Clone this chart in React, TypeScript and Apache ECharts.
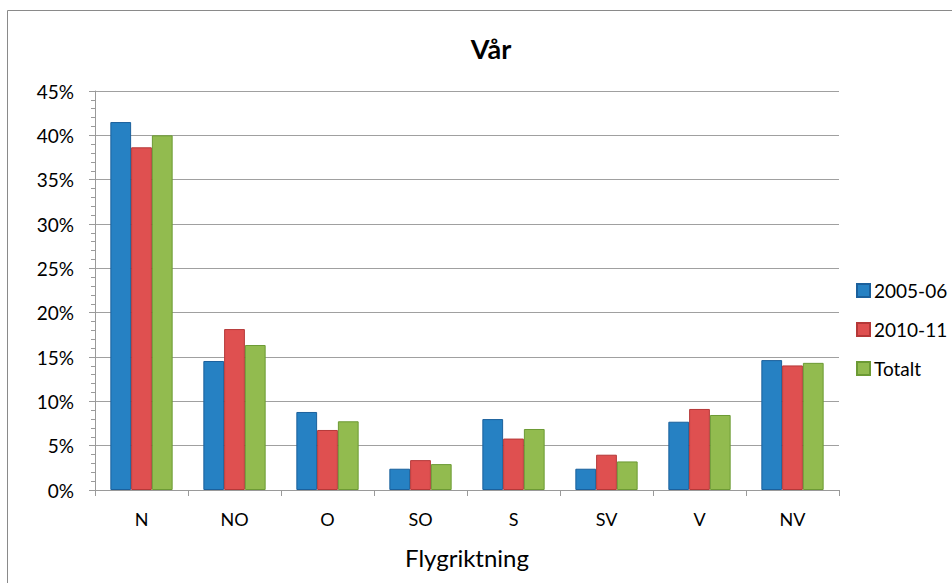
import React, { useEffect, useRef } from "react";
import * as echarts from "echarts";

const categories = ["N", "NO", "O", "SO", "S", "SV", "V", "NV"];
const series2005 = [41.5, 14.55, 8.8, 2.4, 8.0, 2.4, 7.7, 14.65];
const series2010 = [38.65, 18.15, 6.77, 3.37, 5.8, 3.98, 9.14, 14.05];
const seriesTotal = [40.0, 16.35, 7.75, 2.92, 6.88, 3.22, 8.46, 14.34];
const seriesNames = ["2005-06", "2010-11", "Totalt"];
const titleText = "Vår";
const xAxisName = "Flygriktning";

const FONT = "Lato, 'Noto Sans', sans-serif";

export default function App() {
  const ref = useRef<HTMLDivElement>(null);
  useEffect(() => {
    if (!ref.current) return;
    const chart = echarts.init(ref.current, undefined, { renderer: "svg" });
    const mk = (name: string, data: number[], fill: string, border: string) => ({
      name,
      type: "bar",
      data,
      barGap: "0%",
      barCategoryGap: "33%",
      itemStyle: { color: fill, borderColor: border, borderWidth: 1 },
    });
    chart.setOption({
      animation: false,
      backgroundColor: "#ffffff",
      textStyle: { fontFamily: FONT },
      title: {
        text: titleText,
        left: 486,
        top: 30,
        textAlign: "center",
        textStyle: { fontFamily: FONT, fontSize: 27, fontWeight: "bold", color: "#000" },
      },
      legend: {
        orient: "vertical",
        left: 851,
        top: 276,
        itemWidth: 13,
        itemHeight: 13,
        itemGap: 20,
        icon: "rect",
        textStyle: { fontFamily: FONT, fontSize: 19, color: "#000", padding: [0, 0, 0, -1] },
        data: seriesNames,
      },
      graphic: [
        {
          type: "rect",
          shape: { x: 7.5, y: 10.5, width: 1000, height: 1000 },
          style: { fill: "none", stroke: "#8a8a8a", lineWidth: 1 },
          silent: true,
        },
      ],
      grid: { left: 95, right: 113, top: 91, bottom: 93, containLabel: false },
      xAxis: {
        type: "category",
        data: categories,
        name: xAxisName,
        nameLocation: "middle",
        nameGap: 55,
        nameTextStyle: { fontFamily: FONT, fontSize: 24, color: "#000" },
        axisLine: { lineStyle: { color: "#9a9a9a", width: 1 } },
        axisTick: { show: true, length: 6, lineStyle: { color: "#9a9a9a" } },
        axisLabel: { margin: 20, fontFamily: FONT, fontSize: 18, color: "#000" },
      },
      yAxis: {
        type: "value",
        min: 0,
        max: 45,
        interval: 5,
        axisLine: { show: true, lineStyle: { color: "#9a9a9a", width: 1 } },
        axisTick: { show: true, length: 6, lineStyle: { color: "#9a9a9a" } },
        minorTick: { show: true, splitNumber: 5, length: 4, lineStyle: { color: "#9a9a9a" } },
        splitLine: { show: true, lineStyle: { color: "#a0a0a0", width: 1 } },
        axisLabel: { margin: 21, fontFamily: FONT, fontSize: 19, color: "#000", formatter: "{value}%" },
      },
      series: [
        mk(seriesNames[0], series2005, "#2681C3", "#1B609C"),
        mk(seriesNames[1], series2010, "#DF5050", "#B53838"),
        mk(seriesNames[2], seriesTotal, "#92BB4F", "#6C9A34"),
      ],
    });
    return () => chart.dispose();
  }, []);
  return (
    <div
      ref={ref}
      style={{ position: "fixed", left: 0, top: 0, width: 952, height: 583, background: "#fff" }}
    />
  );
}
